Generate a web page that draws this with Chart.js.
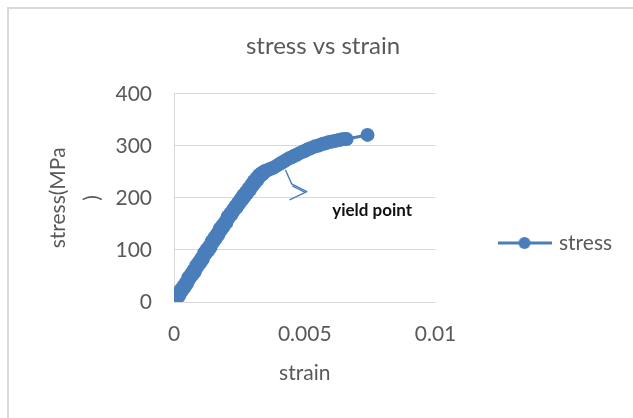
<!DOCTYPE html>
<html>
<head>
<meta charset="utf-8">
<script src="https://cdn.jsdelivr.net/npm/chart.js@4.4.1/dist/chart.umd.min.js"></script>
<style>
  html, body { margin: 0; padding: 0; background: #ffffff; }
  #wrap { width: 633px; height: 418px; }
</style>
</head>
<body>
<div id="wrap"><canvas id="c" width="633" height="418"></canvas></div>
<script>
// Tensile test readings: strain (dimensionless) and stress (MPa)
const strain = [
  0, 0.00005, 0.0001, 0.00015, 0.0002, 0.00025, 0.0003, 0.00035, 0.0004, 0.00045,
  0.0005, 0.00055, 0.0006, 0.00065, 0.0007, 0.00075, 0.0008, 0.00085, 0.0009, 0.00095,
  0.0010, 0.00105, 0.0011, 0.00115, 0.0012, 0.00125, 0.0013, 0.00135, 0.0014, 0.00145,
  0.0015, 0.00155, 0.0016, 0.00165, 0.0017, 0.00175, 0.0018, 0.00185, 0.0019, 0.00195,
  0.0020, 0.00205, 0.0021, 0.00215, 0.0022, 0.00225, 0.0023, 0.00235, 0.0024, 0.00245,
  0.0025, 0.00255, 0.0026, 0.00265, 0.0027, 0.00275, 0.0028, 0.00285, 0.0029, 0.00295,
  0.0030, 0.00305, 0.0031, 0.00315, 0.0032, 0.00325, 0.0033, 0.00335, 0.0034, 0.00345,
  0.0035, 0.0036, 0.0037, 0.0038, 0.0039, 0.0040, 0.0041, 0.0042, 0.0043, 0.0044,
  0.0045, 0.0046, 0.0047, 0.0048, 0.0049, 0.0050, 0.0051, 0.0052, 0.0053, 0.0054,
  0.0055, 0.0056, 0.0057, 0.0058, 0.0059, 0.0060, 0.0061, 0.0062, 0.0063, 0.0064,
  0.0065, 0.0066, 0.0074
];
const stress = [
  0, 7, 5, 14, 12, 23, 21, 30, 28, 37,
  35, 47, 45, 54, 52, 61, 58, 70, 68, 77,
  75, 84, 82, 94, 92, 101, 98, 107, 105, 117,
  115, 124, 122, 131, 129, 141, 138, 147, 145, 154,
  152, 164, 162, 170, 168, 177, 176, 184, 182, 191,
  189, 198, 196, 205, 202, 211, 209, 218, 215, 225,
  223, 232, 229, 238, 235, 244, 242, 248, 246, 251,
  251, 254, 256, 258, 261, 264, 267, 270, 273, 276,
  278, 281, 283, 286, 288, 290, 293, 295, 297, 299,
  300, 302, 304, 305, 307, 308, 309, 310, 311, 312,
  313, 313, 321
];
const seriesName = 'stress';
const chartTitle = 'stress vs strain';
const xTitle = 'strain';
const yTitle = ['stress(MPa', ')'];
const xTickLabels = ['0', '0.005', '0.01'];
const yTickLabels = ['0', '100', '200', '300', '400'];

// Callout for the yield point (positions in data units)
const yieldLabel = 'yield point';
const yieldLabelAt = { x: 0.00605, y: 175 };
const yieldArrow = [
  { x: 0.00426, y: 254 },
  { x: 0.00450, y: 227 },
  { x: 0.00508, y: 212 },
  { x: 0.00442, y: 196 }
];
const yieldArrowInner = [
  { x: 0.00452, y: 223 },
  { x: 0.00500, y: 211 }
];

const BLUE = '#4a7ebb';
const GREY_TEXT = '#595959';
const GRID = '#d9d9d9';
const FONT = 'Lato, "Open Sans", "DejaVu Sans", sans-serif';
const RIGHT_GAP = 59;

// Legend swatch: a short line with a round marker through its middle
const swatch = document.createElement('canvas');
swatch.width = 54; swatch.height = 14;
(function () {
  const g = swatch.getContext('2d');
  g.strokeStyle = BLUE; g.lineWidth = 3;
  g.beginPath(); g.moveTo(0, 7); g.lineTo(54, 7); g.stroke();
  g.fillStyle = BLUE;
  g.beginPath(); g.arc(27, 7, 6, 0, Math.PI * 2); g.fill();
})();

const frame = {
  id: 'frame',
  beforeDraw(chart) {
    const ctx = chart.ctx;
    ctx.save();
    ctx.fillStyle = '#ffffff';
    ctx.fillRect(0, 0, chart.width, chart.height);
    ctx.strokeStyle = GRID;
    ctx.lineWidth = 2;
    ctx.beginPath();
    ctx.moveTo(8, chart.height);
    ctx.lineTo(8, 8);
    ctx.lineTo(chart.width, 8);
    ctx.stroke();
    ctx.restore();
  }
};

// Legend sits a little below the middle and may use the right margin;
// the title is centred on the whole frame rather than the padded area
const boxPlace = {
  id: 'boxPlace',
  afterLayout(chart) {
    const lg = chart.legend;
    if (lg) {
      lg.top += 34; lg.bottom += 34;
      lg.right += RIGHT_GAP; lg.width += RIGHT_GAP;
      if (lg.maxWidth) lg.maxWidth += RIGHT_GAP;
    }
    const tb = chart.titleBlock;
    if (tb) {
      tb.left -= 7; tb.right += RIGHT_GAP; tb.width = tb.right - tb.left;
    }
  }
};

const yieldCallout = {
  id: 'yieldCallout',
  afterDatasetsDraw(chart) {
    const xs = chart.scales.x, ys = chart.scales.y;
    const ctx = chart.ctx;
    const px = p => [xs.getPixelForValue(p.x), ys.getPixelForValue(p.y)];
    ctx.save();
    ctx.strokeStyle = BLUE;
    ctx.lineWidth = 1.4;
    ctx.lineJoin = 'round';
    ctx.beginPath();
    yieldArrow.forEach((p, i) => {
      const [a, b] = px(p);
      if (i === 0) ctx.moveTo(a, b); else ctx.lineTo(a, b);
    });
    ctx.stroke();
    ctx.beginPath();
    yieldArrowInner.forEach((p, i) => {
      const [a, b] = px(p);
      if (i === 0) ctx.moveTo(a, b); else ctx.lineTo(a, b);
    });
    ctx.stroke();
    const [tx, ty] = px(yieldLabelAt);
    ctx.fillStyle = '#111111';
    ctx.font = 'bold 17px ' + FONT;
    ctx.textAlign = 'left';
    ctx.textBaseline = 'middle';
    ctx.fillText(yieldLabel, tx, ty);
    ctx.restore();
  }
};

const points = strain.map((s, i) => ({ x: s, y: stress[i] }));

new Chart(document.getElementById('c'), {
  type: 'scatter',
  data: {
    datasets: [{
      label: seriesName,
      data: points,
      showLine: true,
      borderColor: BLUE,
      backgroundColor: BLUE,
      borderWidth: 3,
      pointRadius: 7,
      pointHoverRadius: 7,
      pointBorderWidth: 0,
      pointStyle: 'circle',
      tension: 0
    }]
  },
  options: {
    responsive: false,
    animation: false,
    devicePixelRatio: 1,
    layout: { padding: { left: 20, right: RIGHT_GAP, top: 0, bottom: 0 } },
    plugins: {
      title: {
        display: true,
        text: chartTitle,
        color: GREY_TEXT,
        font: { family: FONT, size: 24, weight: 'normal', lineHeight: 1.2 },
        padding: { top: 32, bottom: 33 }
      },
      legend: {
        display: true,
        position: 'right',
        labels: {
          color: GREY_TEXT,
          font: { family: FONT, size: 21 },
          usePointStyle: true,
          pointStyleWidth: 48,
          padding: 65,
          generateLabels(chart) {
            const items = Chart.defaults.plugins.legend.labels.generateLabels(chart);
            items.forEach(it => { it.pointStyle = swatch; });
            return items;
          }
        }
      },
      tooltip: { enabled: false }
    },
    scales: {
      x: {
        type: 'linear',
        min: 0, max: 0.01,
        afterBuildTicks(scale) {
          scale.ticks = xTickLabels.map(t => ({ value: parseFloat(t) }));
        },
        ticks: {
          color: GREY_TEXT,
          font: { family: FONT, size: 21 },
          padding: 20,
          maxRotation: 0,
          callback: (v, i) => xTickLabels[i]
        },
        grid: { display: false, drawTicks: false },
        border: { display: false },
        title: {
          display: true,
          text: xTitle,
          color: GREY_TEXT,
          font: { family: FONT, size: 21, lineHeight: 1.2 },
          padding: { top: 0, bottom: 32 }
        },
        afterFit(scale) { scale.height = 116; }
      },
      y: {
        type: 'linear',
        min: 0, max: 400,
        afterBuildTicks(scale) {
          scale.ticks = yTickLabels.map(t => ({ value: parseFloat(t) }));
        },
        ticks: {
          color: GREY_TEXT,
          font: { family: FONT, size: 21 },
          padding: 22,
          callback: (v, i) => yTickLabels[i]
        },
        grid: { color: GRID, lineWidth: 1, drawTicks: false },
        border: { display: true, color: GRID, width: 1 },
        title: {
          display: true,
          text: yTitle,
          color: GREY_TEXT,
          font: { family: FONT, size: 21, lineHeight: 1.62 },
          padding: { top: 21, bottom: 0 }
        },
        afterFit(scale) { scale.width = 154; }
      }
    }
  },
  plugins: [frame, boxPlace, yieldCallout]
});
</script>
</body>
</html>
